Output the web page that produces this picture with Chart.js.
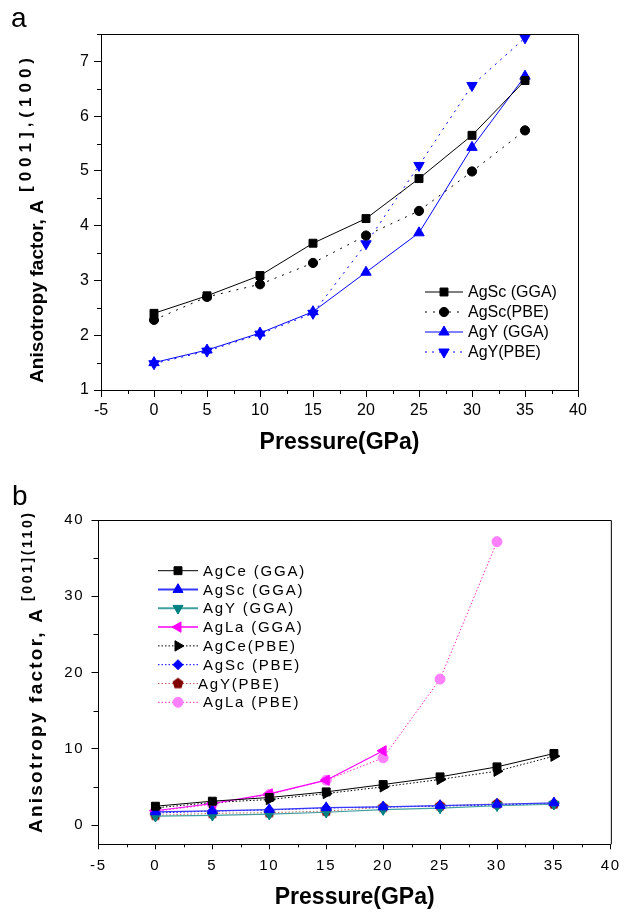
<!DOCTYPE html>
<html><head><meta charset="utf-8">
<script src="https://cdn.jsdelivr.net/npm/chart.js@4.4.1/dist/chart.umd.min.js"></script>
<style>
html,body{margin:0;padding:0;background:#fff;width:629px;height:912px;overflow:hidden}
canvas{position:absolute;left:0;display:block}
#ca{top:0}
#cb{top:456px}
</style></head>
<body>
<canvas id="ca" width="629" height="456"></canvas>
<canvas id="cb" width="629" height="456"></canvas>
<script>
// ---------- data ----------
const pressure = [0, 5, 10, 15, 20, 25, 30, 35];

// panel a : A[001],(100)
const aAgScGGA = [2.40, 2.72, 3.09, 3.68, 4.13, 4.86, 5.65, 6.65];
const aAgScPBE = [2.28, 2.70, 2.93, 3.32, 3.82, 4.27, 4.99, 5.74];
const aAgYGGA  = [1.50, 1.73, 2.04, 2.43, 3.15, 3.87, 5.43, 6.73];
const aAgYPBE  = [1.48, 1.71, 2.02, 2.40, 3.67, 5.10, 6.56, 7.43];

// panel b : A[001](110)
const bAgCeGGA = [2.49, 3.15, 3.63, 4.37, 5.33, 6.34, 7.65, 9.40];
const bAgScGGA = [1.75, 1.88, 2.05, 2.30, 2.40, 2.58, 2.75, 2.93];
const bAgYGGA  = [1.18, 1.30, 1.45, 1.70, 2.05, 2.25, 2.55, 2.75];
const bAgLaGGA = [1.90, 2.85, 4.10, 5.90, 9.75];
const bAgCePBE = [2.27, 2.97, 3.37, 4.15, 5.03, 6.00, 7.08, 9.05];
const bAgScPBE = [1.60, 1.85, 2.00, 2.25, 2.40, 2.50, 2.65, 2.85];
const bAgYPBE  = [1.30, 1.55, 1.65, 1.85, 2.35, 2.55, 2.80, 2.80];
const bAgLaPBE = [1.84, 2.75, 4.02, 5.90, 8.83, 19.15, 37.16];

// tick labels
const xTicks  = [-5, 0, 5, 10, 15, 20, 25, 30, 35, 40];
const yTicksA = [1, 2, 3, 4, 5, 6, 7];
const yTicksB = [0, 10, 20, 30, 40];

const labelsA = ['AgSc (GGA)', 'AgSc(PBE)', 'AgY (GGA)', 'AgY(PBE)'];
const labelsB = ['AgCe (GGA)', 'AgSc (GGA)', 'AgY (GGA)', 'AgLa (GGA)', 'AgCe(PBE)', 'AgSc (PBE)', 'AgY(PBE)', 'AgLa (PBE)'];
const xTitle = 'Pressure(GPa)';

// ---------- helpers ----------
const FAM = '"Liberation Sans", Arial, sans-serif';
Chart.defaults.font.family = FAM;
Chart.defaults.color = '#000';

function pentagon(color, r) {
  const c = document.createElement('canvas');
  const s = Math.ceil(2 * r + 2);
  c.width = s; c.height = s;
  const g = c.getContext('2d');
  g.fillStyle = color;
  g.beginPath();
  for (let i = 0; i < 5; i++) {
    const a = -Math.PI / 2 + i * 2 * Math.PI / 5;
    const px = s / 2 + r * Math.cos(a), py = s / 2 + r * Math.sin(a);
    if (i) g.lineTo(px, py); else g.moveTo(px, py);
  }
  g.closePath(); g.fill();
  return c;
}

function ds(label, vals, o) {
  return {
    label,
    data: vals.map((v, i) => ({x: pressure[i], y: v})),
    borderColor: o.line || o.color,
    backgroundColor: o.color,
    pointBackgroundColor: o.color,
    pointBorderColor: o.color,
    pointBorderWidth: 1,
    pointStyle: o.style,
    pointRotation: o.rot || 0,
    pointRadius: o.r,
    borderWidth: o.lw || 1,
    borderDash: o.dash || [],
    tension: 0,
    fill: false,
    legendLineWidth: o.llw || o.lw || 1
  };
}

function vtext(ctx, text, bx, sy, font, target) {
  ctx.save();
  ctx.font = font;
  ctx.letterSpacing = '0px';
  ctx.translate(bx, sy);
  ctx.rotate(-Math.PI / 2);
  ctx.textAlign = 'left';
  ctx.textBaseline = 'alphabetic';
  const w = ctx.measureText(text).width;
  if (target) ctx.letterSpacing = ((target - w) / Math.max(1, text.length - 1)) + 'px';
  ctx.fillStyle = '#000';
  ctx.fillText(text, 0, 0);
  ctx.restore();
}

function decoPlugin(cfg) {
  return {
    id: 'deco',
    beforeLayout(chart) { chart.ctx.letterSpacing = cfg.ls; },
    beforeDraw(chart) { chart.ctx.letterSpacing = cfg.ls; },
    afterDatasetsDraw(chart) {
      const ctx = chart.ctx, ca = chart.chartArea;
      const xs = chart.scales.x, ys = chart.scales.y;
      ctx.save();
      ctx.strokeStyle = '#000';
      ctx.lineWidth = 1;
      ctx.setLineDash([]);
      // box: top and right
      ctx.beginPath();
      ctx.moveTo(ca.left, ca.top + 0.5); ctx.lineTo(ca.right + 0.5, ca.top + 0.5);
      ctx.lineTo(ca.right + 0.5, ca.bottom);
      ctx.stroke();
      // minor ticks
      ctx.beginPath();
      for (let v = xs.min; v <= xs.max + 1e-9; v += cfg.xMinor) {
        if (Math.abs(v / cfg.xMajor - Math.round(v / cfg.xMajor)) < 1e-6) continue;
        const px = Math.round(xs.getPixelForValue(v)) + 0.5;
        ctx.moveTo(px, ca.bottom); ctx.lineTo(px, ca.bottom + cfg.xMinorLen);
      }
      const y0 = Math.ceil(ys.min / cfg.yMinor) * cfg.yMinor;
      for (let v = y0; v <= ys.max + 1e-9; v += cfg.yMinor) {
        if (Math.abs(v / cfg.yMajor - Math.round(v / cfg.yMajor)) < 1e-6) continue;
        const py = Math.round(ys.getPixelForValue(v)) + 0.5;
        ctx.moveTo(ca.left, py); ctx.lineTo(ca.left - cfg.yMinorLen, py);
      }
      ctx.stroke();
      // legend
      const L = cfg.legend;
      chart.data.datasets.forEach((d, i) => {
        const y = L.ys[i];
        ctx.save();
        ctx.strokeStyle = d.borderColor;
        ctx.lineWidth = d.legendLineWidth;
        ctx.setLineDash(d.borderDash || []);
        ctx.beginPath();
        ctx.moveTo(L.x1, y); ctx.lineTo(L.x2, y);
        ctx.stroke();
        ctx.setLineDash([]);
        ctx.fillStyle = d.pointBackgroundColor;
        ctx.strokeStyle = d.pointBorderColor;
        ctx.lineWidth = 1;
        Chart.helpers.drawPoint(ctx, {pointStyle: d.pointStyle, rotation: d.pointRotation, radius: d.pointRadius, borderWidth: 1}, L.mx, y);
        ctx.restore();
        ctx.save();
        ctx.font = L.font;
        ctx.fillStyle = '#000';
        ctx.textBaseline = 'middle';
        ctx.textAlign = 'left';
        ctx.letterSpacing = cfg.ls;
        ctx.fillText(d.label, L.tx + (L.txOff[i] || 0), y + 1);
        ctx.restore();
      });
      // y title
      vtext(ctx, cfg.yTitle, cfg.yT.bx, cfg.yT.sy, cfg.yT.font, cfg.yT.len);
      vtext(ctx, cfg.ySup, cfg.yS.bx, cfg.yS.sy, cfg.yS.font, cfg.yS.len);
      // x title
      ctx.save();
      ctx.letterSpacing = '0px';
      ctx.font = 'bold 23px ' + FAM;
      ctx.fillStyle = '#000';
      ctx.textAlign = 'center';
      ctx.textBaseline = 'alphabetic';
      ctx.fillText(xTitle, (ca.left + ca.right) / 2, cfg.xTitleY);
      ctx.restore();
      // panel letter
      ctx.font = '28px ' + FAM;
      ctx.letterSpacing = '0px';
      ctx.fillStyle = '#000';
      ctx.textBaseline = 'alphabetic';
      ctx.textAlign = 'left';
      ctx.fillText(cfg.letter, cfg.letterX, cfg.letterY);
      ctx.restore();
    }
  };
}

function axes(o) {
  return {
    x: {
      type: 'linear', min: -5, max: 40,
      afterBuildTicks: s => { s.ticks = xTicks.map(v => ({value: v})); },
      afterFit: s => { s.height = o.xH; },
      ticks: {font: {size: o.tickSize}, padding: o.xPad, maxRotation: 0, autoSkip: false, color: '#000'},
      grid: {drawOnChartArea: false, tickLength: o.xTL, tickColor: '#000', tickWidth: 1},
      border: {color: '#000', width: 1}
    },
    y: {
      type: 'linear', min: o.yMin, max: o.yMax,
      afterBuildTicks: s => { s.ticks = o.yTicks.map(v => ({value: v})); },
      afterFit: s => { s.width = o.yW; },
      ticks: {font: {size: o.tickSize}, padding: o.yPad, color: '#000'},
      grid: {drawOnChartArea: false, tickLength: o.yTL, tickColor: '#000', tickWidth: 1},
      border: {color: '#000', width: 1}
    }
  };
}

// ---------- panel a ----------
new Chart(document.getElementById('ca'), {
  type: 'line',
  data: {datasets: [
    ds(labelsA[0], aAgScGGA, {color: '#000000', style: 'rect', r: 5.6}),
    ds(labelsA[1], aAgScPBE, {color: '#000000', style: 'circle', r: 4.6, dash: [2, 6]}),
    ds(labelsA[2], aAgYGGA,  {color: '#0000FF', style: 'triangle', r: 6}),
    ds(labelsA[3], aAgYPBE,  {color: '#0000FF', style: 'triangle', rot: 180, r: 6, dash: [2, 5]})
  ]},
  options: {
    responsive: false, animation: false,
    layout: {padding: {top: 34, right: 51, left: 0, bottom: 0}},
    plugins: {legend: {display: false}, tooltip: {enabled: false}},
    scales: axes({xH: 66, yW: 101, tickSize: 16, xPad: 4, yPad: 5, xTL: 7, yTL: 7,
                  yMin: 1, yMax: 7.5, yTicks: yTicksA})
  },
  plugins: [decoPlugin({
    ls: '0px', xMinor: 2.5, xMajor: 5, yMinor: 0.5, yMajor: 1, xMinorLen: 4, yMinorLen: 4,
    legend: {x1: 425, x2: 463, mx: 444, tx: 468, ys: [292, 312, 332, 352], font: '16px ' + FAM, txOff: []},
    yTitle: 'Anisotropy factor, A', yT: {bx: 43, sy: 383, font: 'bold 19px ' + FAM, len: 183},
    ySup: '[001],(100)', yS: {bx: 31, sy: 192, font: 'bold 17px ' + FAM, len: 134},
    xTitleY: 449,
    letter: 'a', letterX: 11, letterY: 27
  })]
});

// ---------- panel b ----------
new Chart(document.getElementById('cb'), {
  type: 'line',
  data: {datasets: [
    ds(labelsB[0], bAgCeGGA, {color: '#000000', style: 'rect', r: 5.6}),
    ds(labelsB[1], bAgScGGA, {color: '#0000FF', line: '#3838FF', style: 'triangle', r: 5.8, lw: 1.2, llw: 2}),
    ds(labelsB[2], bAgYGGA,  {color: '#008080', line: '#40A0A0', style: 'triangle', rot: 180, r: 5.8, lw: 1.2, llw: 2}),
    ds(labelsB[3], bAgLaGGA, {color: '#FF00FF', style: 'triangle', rot: -90, r: 6, lw: 1.2, llw: 1.5}),
    ds(labelsB[4], bAgCePBE, {color: '#000000', style: 'triangle', rot: 90, r: 6, dash: [1.5, 2]}),
    ds(labelsB[5], bAgScPBE, {color: '#0000FF', style: 'rectRot', r: 5, dash: [1.5, 2]}),
    ds(labelsB[6], bAgYPBE,  {color: '#800000', line: '#C06060', style: pentagon('#800000', 5.8), r: 5.8, dash: [1.5, 2]}),
    ds(labelsB[7], bAgLaPBE, {color: '#FF80FF', line: '#FF30C0', style: 'circle', r: 5, dash: [1.5, 2]})
  ]},
  options: {
    responsive: false, animation: false,
    layout: {padding: {top: 64, right: 12.3, left: 0, bottom: 0}},
    plugins: {legend: {display: false}, tooltip: {enabled: false}},
    scales: axes({xH: 67.7, yW: 98.5, tickSize: 15, xPad: 8, yPad: 7, xTL: 5, yTL: 7,
                  yMin: -2.5, yMax: 40, yTicks: yTicksB})
  },
  plugins: [decoPlugin({
    ls: '1.8px', xMinor: 2.5, xMajor: 5, yMinor: 5, yMajor: 10, xMinorLen: 3, yMinorLen: 5,
    legend: {x1: 158, x2: 198, mx: 178, tx: 203, ys: [114.7, 133.5, 152.3, 171.1, 189.9, 208.7, 227.5, 246.3],
             font: '15px ' + FAM, txOff: [0, 0, 0, 0, 0, 0, -5, 0]},
    yTitle: 'Anisotropy factor, A', yT: {bx: 42, sy: 377, font: 'bold 19px ' + FAM, len: 224},
    ySup: '[001](110)', yS: {bx: 32, sy: 145, font: 'bold 14px ' + FAM, len: 88},
    xTitleY: 448,
    letter: 'b', letterX: 12, letterY: 49
  })]
});
</script>
</body></html>
